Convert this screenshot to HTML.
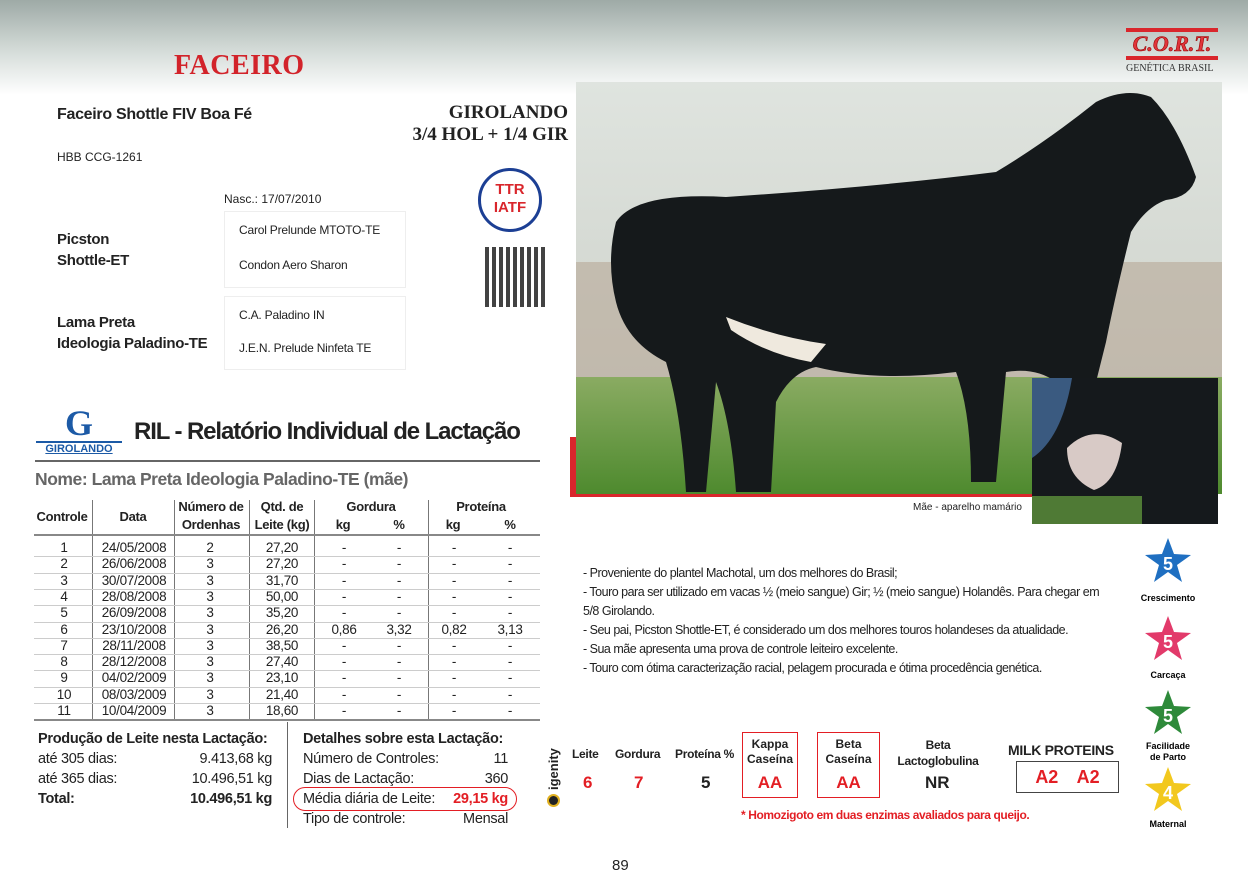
<!DOCTYPE html>
<html><head><meta charset="utf-8">
<style>
body{margin:0;width:1248px;height:879px;position:relative;overflow:hidden;background:#fff;font-family:"Liberation Sans",Arial,sans-serif;color:#222}
.a{position:absolute;white-space:nowrap}
.b{font-weight:bold}
#tbl div{position:absolute;white-space:nowrap;font-size:13.5px;text-align:center;letter-spacing:-.3px}
.red{color:#e31e24}
</style></head><body>
<div class="a" style="left:0;top:0;width:1248px;height:95px;background:linear-gradient(#9eaaa6,#d6ddda 55%,#fff)"></div>
<div class="a b" style="left:174px;top:50px;font:bold 28px 'Liberation Serif',serif;color:#d2232a;letter-spacing:.5px">FACEIRO</div>
<div class="a" style="left:1126px;top:28px;width:92px">
 <div style="height:4px;background:#d9262c"></div>
 <div style="font:italic bold 22px 'Liberation Serif',serif;color:#e0353b;text-align:center;line-height:24px;-webkit-text-stroke:0.6px #900">C.O.R.T.</div>
 <div style="height:4px;background:#d9262c"></div>
 <div style="font:10px 'Liberation Serif',serif;color:#333;margin-top:3px">GENÉTICA BRASIL</div>
</div>
<div class="a b" style="left:57px;top:106px;font-size:16px;letter-spacing:-.3px">Faceiro Shottle FIV Boa Fé</div>
<div class="a b" style="left:380px;top:102px;width:188px;text-align:right;font:bold 19px 'Liberation Serif',serif;line-height:22px">GIROLANDO<br>3/4 HOL + 1/4 GIR</div>
<div class="a" style="left:585px;top:92px;width:70px;height:40px;background:#1a9a3a">
 <div style="position:absolute;left:7px;top:4px;width:0;height:0;border-left:28px solid transparent;border-right:28px solid transparent;border-bottom:16px solid #f5d100"></div>
 <div style="position:absolute;left:7px;top:20px;width:0;height:0;border-left:28px solid transparent;border-right:28px solid transparent;border-top:16px solid #f5d100"></div>
 <div style="position:absolute;left:25px;top:10px;width:20px;height:20px;border-radius:50%;background:#1c3f94"></div>
</div>
<div class="a" style="left:57px;top:150px;font-size:12px">HBB CCG-1261</div>
<div class="a" style="left:224px;top:192px;font-size:12px">Nasc.: 17/07/2010</div>
<div class="a" style="left:478px;top:168px;width:64px;height:64px;border:3px solid #1c3f94;border-radius:50%;box-sizing:border-box;text-align:center;font:bold 15px 'Liberation Sans';color:#d9262c;line-height:18px;padding-top:10px">TTR<br>IATF</div>
<div class="a" style="left:485px;top:247px;width:62px;height:60px;background:repeating-linear-gradient(90deg,#222 0 4px,transparent 4px 7px),repeating-linear-gradient(0deg,#fff 0 3px,transparent 3px 7px);background-color:#fff;opacity:.85"></div>
<div class="a" style="left:224px;top:211px;width:180px;height:75px;border:1px solid #eee"></div>
<div class="a" style="left:224px;top:296px;width:180px;height:72px;border:1px solid #eee"></div>
<div class="a b" style="left:57px;top:229px;font-size:15px;line-height:21px;letter-spacing:-.3px">Picston<br>Shottle-ET</div>
<div class="a" style="left:239px;top:223px;font-size:12px;letter-spacing:-.2px">Carol Prelunde MTOTO-TE</div>
<div class="a" style="left:239px;top:258px;font-size:12px;letter-spacing:-.2px">Condon Aero Sharon</div>
<div class="a b" style="left:57px;top:312px;font-size:15px;line-height:21px;letter-spacing:-.3px">Lama Preta<br>Ideologia  Paladino-TE</div>
<div class="a" style="left:239px;top:308px;font-size:12px;letter-spacing:-.2px">C.A. Paladino IN</div>
<div class="a" style="left:239px;top:341px;font-size:12px;letter-spacing:-.2px">J.E.N. Prelude Ninfeta TE</div>

<div class="a" style="left:570px;top:437px;width:6px;height:60px;background:#d9262c"></div>
<div class="a" style="left:570px;top:493px;width:470px;height:4px;background:#d9262c"></div>
<svg class="a" style="left:576px;top:82px" width="646" height="412">
 <defs><linearGradient id="sky" x1="0" y1="0" x2="0" y2="1"><stop offset="0" stop-color="#dfe4df"/><stop offset="1" stop-color="#c9ccc4"/></linearGradient>
 <linearGradient id="gr" x1="0" y1="0" x2="0" y2="1"><stop offset="0" stop-color="#8aab62"/><stop offset="1" stop-color="#4e8a2e"/></linearGradient></defs>
 <rect width="646" height="412" fill="url(#sky)"/>
 <rect y="180" width="646" height="120" fill="#b8a898" opacity=".6"/>
 <rect y="295" width="646" height="117" fill="url(#gr)"/>
 <path d="M40 140 Q60 110 150 115 Q300 105 420 90 Q470 60 520 20 Q550 5 575 15 Q600 40 620 95 Q615 115 590 118 Q570 125 555 150 Q540 210 530 260 L520 300 Q515 340 520 400 L495 400 Q490 340 480 300 Q460 285 430 290 L420 400 L395 400 Q395 330 380 290 Q300 300 240 285 Q215 290 200 320 L195 410 L160 410 Q155 340 140 300 L130 410 L110 410 Q105 330 90 280 Q50 260 40 220 Q30 180 40 140Z" fill="#15191b"/>
 <path d="M150 235 Q200 255 250 262 L235 280 Q190 272 155 248Z" fill="#efe9de"/>
</svg>
<svg class="a" style="left:1032px;top:378px" width="186" height="146">
 <rect width="186" height="146" fill="#15191c"/>
 <path d="M0 0 H40 Q30 60 0 80Z" fill="#3a5a80"/>
 <path d="M35 70 Q60 45 90 65 Q85 105 62 112 Q35 100 35 70Z" fill="#d8cac6"/>
 <rect y="118" width="110" height="28" fill="#4f7a35"/>
</svg>
<div class="a" style="left:913px;top:502px;font-size:10px">Mãe - aparelho mamário</div>

<div class="a" style="left:36px;top:405px;width:86px;text-align:center">
 <div style="font:bold 36px 'Liberation Serif',serif;color:#1c5aa6;line-height:36px">G</div>
 <div style="border-top:2px solid #1c5aa6;font:bold 11px 'Liberation Sans';color:#1c5aa6;text-decoration:underline">GIROLANDO</div>
</div>
<div class="a b" style="left:134px;top:418px;font-size:24px;letter-spacing:-1.1px">RIL - Relatório Individual de Lactação</div>
<div class="a" style="left:35px;top:460px;width:505px;height:2px;background:#666"></div>
<div class="a b" style="left:35px;top:469px;font-size:17.5px;color:#666;letter-spacing:-.45px">Nome: Lama Preta Ideologia Paladino-TE (mãe)</div>

<div id="tbl" class="a" style="left:0;top:0;width:560px;height:730px"></div>

<div class="a" style="left:287px;top:722px;width:1px;height:106px;background:#666"></div>
<div class="a" style="left:38px;top:729px;width:234px;font-size:14.5px;line-height:20px;letter-spacing:-.3px">
 <div class="b">Produção de Leite nesta Lactação:</div>
 <div>até 305 dias:<span style="float:right">9.413,68 kg</span></div>
 <div>até 365 dias:<span style="float:right">10.496,51 kg</span></div>
 <div class="b">Total:<span style="float:right">10.496,51 kg</span></div>
</div>
<div class="a" style="left:303px;top:729px;width:205px;font-size:14.5px;line-height:20px;letter-spacing:-.3px">
 <div class="b">Detalhes sobre esta Lactação:</div>
 <div>Número de Controles:<span style="float:right">11</span></div>
 <div>Dias de Lactação:<span style="float:right">360</span></div>
 <div>Média diária de Leite:<span class="b red" style="float:right">29,15 kg</span></div>
 <div>Tipo de controle:<span style="float:right">Mensal</span></div>
</div>
<div class="a" style="left:293px;top:787px;width:222px;height:22px;border:1.5px solid #e31e24;border-radius:12px"></div>

<div class="a" style="left:583px;top:564px;font-size:12.5px;line-height:19px;letter-spacing:-.5px;white-space:normal;width:530px">
- Proveniente do plantel Machotal, um dos melhores do Brasil;<br>
- Touro para ser utilizado em vacas ½ (meio sangue) Gir; ½ (meio sangue) Holandês. Para chegar em 5/8 Girolando.<br>
- Seu pai, Picston Shottle-ET, é considerado um dos melhores touros holandeses da atualidade.<br>
- Sua mãe apresenta uma prova de controle leiteiro excelente.<br>
- Touro com ótima caracterização racial, pelagem procurada e ótima procedência genética.</div>

<svg class="a" style="left:1130px;top:535px" width="80" height="300">
 <g font-family="Liberation Sans" font-weight="bold" text-anchor="middle">
 <polygon transform="translate(38,27)" points="0,-24 6,-8 23,-7 9,3 14,20 0,10 -14,20 -9,3 -23,-7 -6,-8" fill="#1f6fc1"/>
 <text x="38" y="35" fill="#fff" font-size="18">5</text>
 <text x="38" y="66" font-size="9">Crescimento</text>
 <polygon transform="translate(38,105)" points="0,-24 6,-8 23,-7 9,3 14,20 0,10 -14,20 -9,3 -23,-7 -6,-8" fill="#e23a6a"/>
 <text x="38" y="113" fill="#fff" font-size="18">5</text>
 <text x="38" y="143" font-size="9">Carcaça</text>
 <polygon transform="translate(38,179)" points="0,-24 6,-8 23,-7 9,3 14,20 0,10 -14,20 -9,3 -23,-7 -6,-8" fill="#2e8a3a"/>
 <text x="38" y="187" fill="#fff" font-size="18">5</text>
 <text x="38" y="214" font-size="9">Facilidade</text><text x="38" y="225" font-size="9">de Parto</text>
 <polygon transform="translate(38,256)" points="0,-24 6,-8 23,-7 9,3 14,20 0,10 -14,20 -9,3 -23,-7 -6,-8" fill="#f2c81e"/>
 <text x="38" y="264" fill="#fff" font-size="18">4</text>
 <text x="38" y="292" font-size="9">Maternal</text>
 </g>
</svg>

<div class="a" style="left:546px;top:790px;font:bold 13px 'Liberation Sans';transform:rotate(-90deg);transform-origin:0 0">igenity</div>
<div class="a" style="left:547px;top:794px;width:13px;height:13px;border-radius:50%;background:#222;border:2px solid #e0b020;box-sizing:border-box"></div>
<div class="a b" style="top:742px;left:0;font-size:12px;letter-spacing:-.3px">
 <div class="a" style="left:572px;top:5px">Leite</div>
 <div class="a" style="left:615px;top:5px">Gordura</div>
 <div class="a" style="left:675px;top:5px">Proteína %</div>
 <div class="a" style="left:895px;top:-5px;width:86px;text-align:center;line-height:16px">Beta<br>Lactoglobulina</div>
</div>
<div class="a" style="left:742px;top:732px;width:56px;height:66px;border:1.5px solid #e31e24;text-align:center;font-weight:bold;font-size:12px;line-height:15px;padding-top:4px;box-sizing:border-box">Kappa<br>Caseína<div class="red" style="font-size:17px;margin-top:8px">AA</div></div>
<div class="a" style="left:817px;top:732px;width:63px;height:66px;border:1.5px solid #e31e24;text-align:center;font-weight:bold;font-size:12px;line-height:15px;padding-top:4px;box-sizing:border-box">Beta<br>Caseína<div class="red" style="font-size:17px;margin-top:8px">AA</div></div>
<div class="a b red" style="left:583px;top:773px;font-size:17px">6</div>
<div class="a b red" style="left:634px;top:773px;font-size:17px">7</div>
<div class="a b" style="left:701px;top:773px;font-size:17px">5</div>
<div class="a b" style="left:925px;top:773px;font-size:17px">NR</div>
<div class="a b" style="left:1008px;top:742px;font-size:14px;letter-spacing:-.3px">MILK PROTEINS</div>
<div class="a b red" style="left:1016px;top:761px;width:101px;height:30px;border:1.5px solid #444;font-size:18px;text-align:center;line-height:30px;word-spacing:14px">A2 A2</div>
<div class="a b red" style="left:741px;top:808px;font-size:12px;letter-spacing:-.4px">* Homozigoto em duas enzimas avaliados para queijo.</div>
<div class="a" style="left:612px;top:857px;font-size:15px">89</div>

<script>
const controles=["1","2","3","4","5","6","7","8","9","10","11"];
const datas=["24/05/2008","26/06/2008","30/07/2008","28/08/2008","26/09/2008","23/10/2008","28/11/2008","28/12/2008","04/02/2009","08/03/2009","10/04/2009"];
const ordenhas=["2","3","3","3","3","3","3","3","3","3","3"];
const leite=["27,20","27,20","31,70","50,00","35,20","26,20","38,50","27,40","23,10","21,40","18,60"];
const gordKg=["-","-","-","-","-","0,86","-","-","-","-","-"];
const gordPct=["-","-","-","-","-","3,32","-","-","-","-","-"];
const protKg=["-","-","-","-","-","0,82","-","-","-","-","-"];
const protPct=["-","-","-","-","-","3,13","-","-","-","-","-"];
const t=document.getElementById('tbl');
function add(x,y,txt,name,style){const d=document.createElement('div');d.textContent=txt;


d.style.left=x+'px';d.style.top=y+'px';if(style)d.style.cssText+=style;t.appendChild(d);return d;}
function line(x,y,w,h,c,name){const d=document.createElement('div');


d.style.cssText=`left:${x}px;top:${y}px;width:${w}px;height:${h}px;background:${c}`;t.appendChild(d);}
const hb='font-weight:bold;font-size:13px;transform:translateX(-50%);line-height:18px';
add(62,508,'Controle','header-controle',hb);
add(133,508,'Data','header-data',hb);
add(211,498,'Número de','header-ordenhas',hb);add(211,516,'Ordenhas','header-ordenhas-2',hb);
add(282,498,'Qtd. de','header-leite',hb);add(282,516,'Leite (kg)','header-leite-2',hb);
add(371,498,'Gordura','header-gordura',hb);add(343,516,'kg','header-gord-kg',hb);add(399,516,'%','header-gord-pct',hb);
add(481,498,'Proteína','header-proteina',hb);add(453,516,'kg','header-prot-kg',hb);add(510,516,'%','header-prot-pct',hb);
[92,174,249,314,428].forEach((x,i)=>line(x,500,1,220,'#777','col-divider'));
line(34,534,506,2,'#888','header-rule');
line(34,719,506,2,'#888','table-bottom-rule');
const r0=540,rh=16.3;
const cols=[[64,controles],[134,datas],[210,ordenhas],[282,leite],[344,gordKg],[399,gordPct],[454,protKg],[510,protPct]];
controles.forEach((c,i)=>{const y=r0+i*rh;
 if(i>0)line(34,y,506,1,'#ccc','row-divider');
 cols.forEach(([x,arr])=>add(x,y,arr[i],'table-cell','transform:translateX(-50%);line-height:16px'));
});
</script>
</body></html>
